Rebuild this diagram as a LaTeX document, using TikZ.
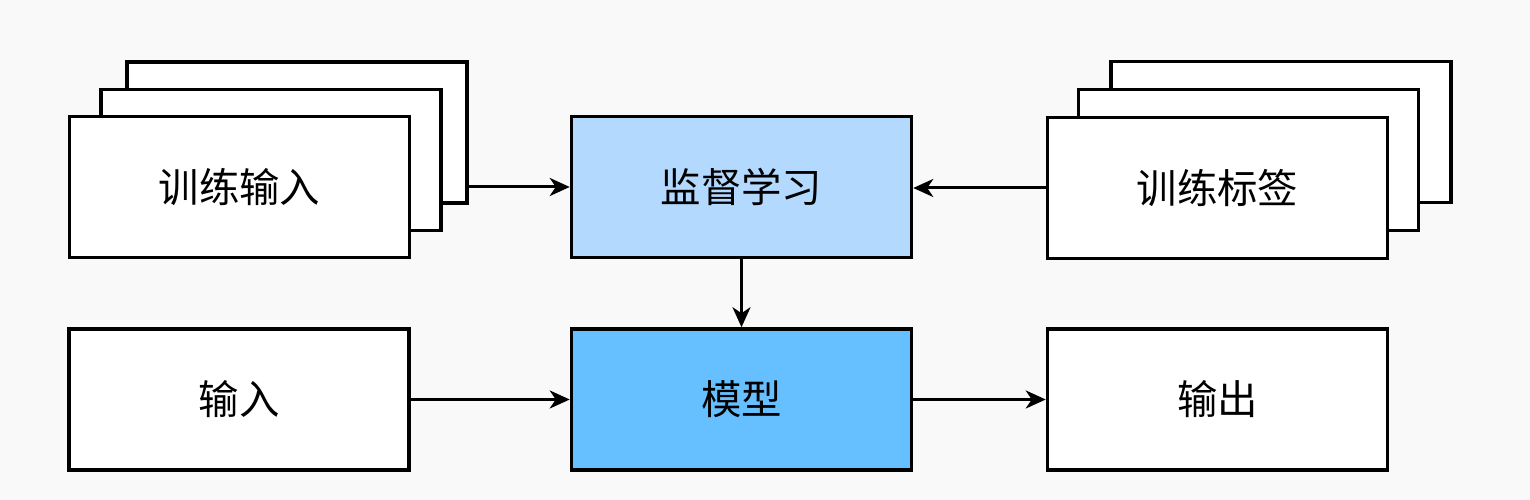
\documentclass[tikz,border=0pt]{standalone}
\usepackage{fontspec}
\setmainfont{Noto Sans CJK SC}
\usetikzlibrary{arrows.meta}
\definecolor{bg}{HTML}{F9F9F9}
\definecolor{lightb}{HTML}{B3D9FF}
\definecolor{midb}{HTML}{66BFFF}
\tikzset{
  box/.style={draw=black, line width=1pt, fill=white, minimum width=3.40cm, minimum height=1.41cm, inner sep=0pt, font=\fontsize{11.5pt}{13pt}\selectfont},
  arr/.style={line width=0.85pt, -{Stealth[length=0.2cm, width=0.18cm, inset=0.06cm]}}
}
\begin{document}
\begin{tikzpicture}
\fill[bg] (0,0) rectangle (15.3,5);
\useasboundingbox (0,0) rectangle (15.3,5);
% left stack
\node[box] (lb3) at (2.97,3.675) {};
\node[box] (lb2) at (2.71,3.40) {};
\node[box] (lb1) at (2.395,3.13) {训练输入};
% right stack
\node[box] (rb3) at (12.81,3.68) {};
\node[box] (rb2) at (12.485,3.40) {};
\node[box] (rb1) at (12.175,3.12) {训练标签};
% center
\node[box, fill=lightb] (sup) at (7.415,3.13) {监督学习};
\node[box, fill=midb] (model) at (7.415,1.005) {模型};
\node[box] (in) at (2.39,1.005) {输入};
\node[box] (out) at (12.175,1.005) {输出};
% arrows
\draw[arr] (lb1 -| lb3.east) -- (sup.west);
\draw[arr] (rb1.west) -- (rb1.west -| sup.east);
\draw[arr] (sup.south) -- (model.north);
\draw[arr] (in.east) -- (model.west);
\draw[arr] (model.east) -- (out.west);
\end{tikzpicture}
\end{document}
